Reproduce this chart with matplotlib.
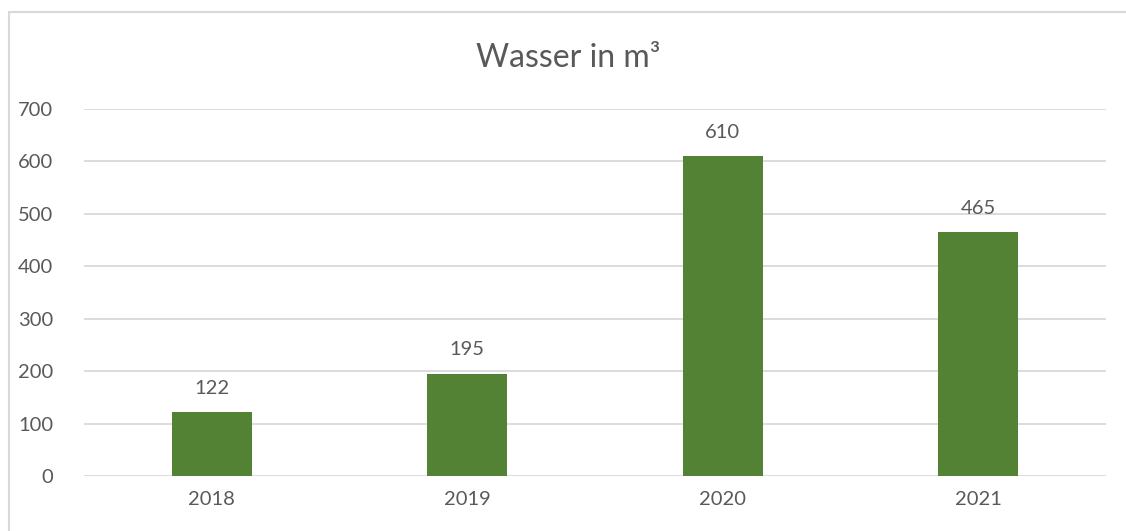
import matplotlib
matplotlib.use('Agg')
import matplotlib.pyplot as plt
from matplotlib.patches import Rectangle

years = ['2018', '2019', '2020', '2021']
wasser = [122, 195, 610, 465]

plt.rcParams['font.family'] = ['Lato', 'DejaVu Sans']

W, H = 1126, 531
fig = plt.figure(figsize=(W / 100, H / 100), dpi=100)
ax = fig.add_axes([84 / W, (H - 476) / H, (1106 - 84) / W, (476 - 109) / H])

txt = '#595959'
grid = '#d9d9d9'

x = range(len(years))
bars = ax.bar(x, wasser, width=0.315, color='#548235', zorder=3)
for b, v in zip(bars, wasser):
    ax.annotate(str(v), (b.get_x() + b.get_width() / 2, v), xytext=(0, 11),
                textcoords='offset points', ha='center', va='bottom',
                fontsize=14.5, color=txt)

ax.set_xlim(-0.5, 3.5)
ax.set_ylim(0, 700)
ax.set_yticks(range(0, 701, 100))
ax.set_xticks(list(x))
ax.set_xticklabels(years)
ax.yaxis.grid(True, color=grid, lw=1.3, zorder=0)
ax.tick_params(length=0, labelsize=14.5, labelcolor=txt)
ax.tick_params(axis='y', pad=22)
ax.tick_params(axis='x', pad=11)
for s in ax.spines.values():
    s.set_visible(False)

fig.text(568 / W, (H - 58) / H, 'Wasser in m³', ha='center', va='center',
         fontsize=23, color=txt)

# chart border
fig.patches.append(Rectangle((8.5 / W, -0.1), 1.2, (H - 11.5) / H + 0.1,
                             transform=fig.transFigure, fill=False,
                             ec=grid, lw=1.5))

fig.savefig('out.png', dpi=100)
